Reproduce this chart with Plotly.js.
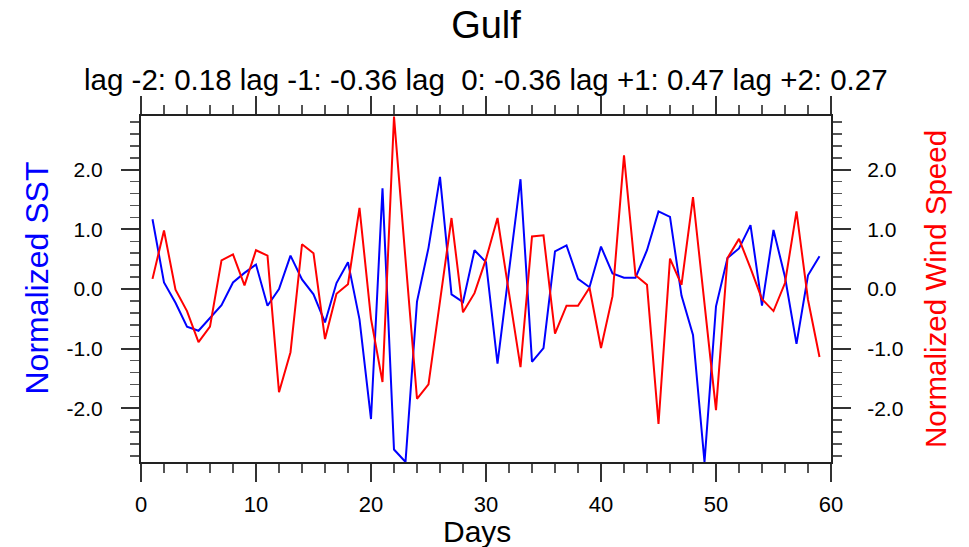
<!DOCTYPE html>
<html>
<head>
<meta charset="utf-8">
<script src="https://cdn.plot.ly/plotly-3.0.1.min.js"></script>
<style>html,body{margin:0;padding:0;background:#fff;}#chart{width:969px;height:547px;}</style>
</head>
<body>
<div id="chart"></div>
<script>
const days = [1,2,3,4,5,6,7,8,9,10,11,12,13,14,15,16,17,18,19,20,21,22,23,24,25,26,27,28,29,30,31,32,33,34,35,36,37,38,39,40,41,42,43,44,45,46,47,48,49,50,51,52,53,54,55,56,57,58,59];
const sst = [1.17,0.11,-0.23,-0.63,-0.70,-0.49,-0.27,0.11,0.27,0.41,-0.28,0.00,0.56,0.16,-0.09,-0.56,0.10,0.45,-0.51,-2.18,1.69,-2.69,-2.90,-0.21,0.69,1.88,-0.09,-0.22,0.65,0.45,-1.25,0.30,1.84,-1.22,-0.99,0.63,0.73,0.17,0.03,0.71,0.26,0.19,0.19,0.65,1.30,1.21,-0.11,-0.77,-2.90,-0.29,0.52,0.68,1.07,-0.28,0.99,0.20,-0.92,0.23,0.55];
const wind = [0.17,0.98,-0.01,-0.37,-0.89,-0.63,0.48,0.58,0.06,0.65,0.56,-1.73,-1.06,0.75,0.60,-0.84,-0.08,0.08,1.36,-0.50,-1.56,2.89,0.50,-1.84,-1.60,-0.18,1.19,-0.39,-0.07,0.50,1.19,-0.07,-1.31,0.88,0.90,-0.75,-0.28,-0.28,0.02,-0.99,-0.12,2.24,0.23,0.07,-2.26,0.51,0.07,1.54,-0.23,-2.03,0.52,0.84,0.35,-0.17,-0.37,0.10,1.30,-0.18,-1.14];
const yTickVals = [-2, -1, 0, 1, 2];
const yTickText = ['-2.0', '-1.0', '0.0', '1.0', '2.0'];
const xTickVals = [0, 10, 20, 30, 40, 50, 60];
const xTickText = ['0', '10', '20', '30', '40', '50', '60'];
const titleText = 'Gulf';
const subtitleText = 'lag -2: 0.18 lag -1: -0.36 lag &nbsp;0: -0.36 lag +1: 0.47 lag +2: 0.27';
const xTitle = 'Days';
const yTitle = 'Normalized SST';
const y2Title = 'Normalized Wind Speed';

const FONT = 'Liberation Sans, Arial, Helvetica, sans-serif';
const yRange = [-2.9, 2.9];

const traces = [
  {x: days, y: sst, type: 'scatter', mode: 'lines', name: yTitle,
   line: {color: '#0000ff', width: 2}, yaxis: 'y'},
  {x: days, y: wind, type: 'scatter', mode: 'lines', name: y2Title,
   line: {color: '#ff0000', width: 2}, yaxis: 'y2'}
];

const axisCommon = {
  showgrid: false, zeroline: false, showline: true, linecolor: '#222', linewidth: 2,
  ticks: 'outside', ticklen: 18, tickwidth: 2, tickcolor: '#333',
  tickfont: {family: FONT, size: 21, color: '#000'}
};

const layout = {
  width: 969, height: 547,
  margin: {l: 141, r: 138, t: 116, b: 85, pad: 0},
  paper_bgcolor: '#fff', plot_bgcolor: '#fff',
  showlegend: false,
  font: {family: FONT, color: '#000'},
  title: {text: titleText, font: {family: FONT, size: 38, color: '#000'},
          x: 486/969, xanchor: 'center', xref: 'container',
          y: 1 - 25/547, yanchor: 'middle', yref: 'container'},
  xaxis: Object.assign({}, axisCommon, {
    range: [0, 60], tickmode: 'array', tickvals: xTickVals, ticktext: xTickText,
    mirror: 'ticks', ticklabelstandoff: 4,
    tickfont: {family: FONT, size: 22, color: '#000'},
    minor: {tickmode: 'linear', tick0: 0, dtick: 2, ticklen: 9, tickwidth: 1.5, tickcolor: '#555', ticks: 'outside'}
  }),
  yaxis: Object.assign({}, axisCommon, {
    range: yRange, tickmode: 'array', tickvals: yTickVals, ticktext: yTickText,
    ticklabelstandoff: 14,
    minor: {tickmode: 'linear', tick0: 0, dtick: 0.2, ticklen: 9, tickwidth: 1.5, tickcolor: '#555', ticks: 'outside'}
  }),
  yaxis2: Object.assign({}, axisCommon, {
    range: yRange, tickmode: 'array', tickvals: yTickVals, ticktext: yTickText,
    overlaying: 'y', side: 'right', ticklabelstandoff: 12,
    minor: {tickmode: 'linear', tick0: 0, dtick: 0.2, ticklen: 9, tickwidth: 1.5, tickcolor: '#555', ticks: 'outside'}
  }),
  annotations: [
    {text: subtitleText, xref: 'paper', yref: 'paper', x: 0.5, y: 1 + (116 - 79) / 346,
     xanchor: 'center', yanchor: 'middle', showarrow: false,
     font: {family: FONT, size: 29.5, color: '#000'}},
    {text: xTitle, xref: 'paper', yref: 'paper', x: (477 - 141) / 690, y: -(531 - 462) / 346,
     xanchor: 'center', yanchor: 'middle', showarrow: false,
     font: {family: FONT, size: 30, color: '#000'}},
    {text: yTitle, xref: 'paper', yref: 'paper', x: (36 - 141) / 690, y: (462 - 278.5) / 346,
     xanchor: 'center', yanchor: 'middle', textangle: -90, showarrow: false,
     font: {family: FONT, size: 32, color: '#0000ff'}},
    {text: y2Title, xref: 'paper', yref: 'paper', x: (935 - 141) / 690, y: 0.5,
     xanchor: 'center', yanchor: 'middle', textangle: -90, showarrow: false,
     font: {family: FONT, size: 29.5, color: '#ff0000'}}
  ]
};

Plotly.newPlot('chart', traces, layout, {staticPlot: true, displayModeBar: false});
</script>
</body>
</html>
